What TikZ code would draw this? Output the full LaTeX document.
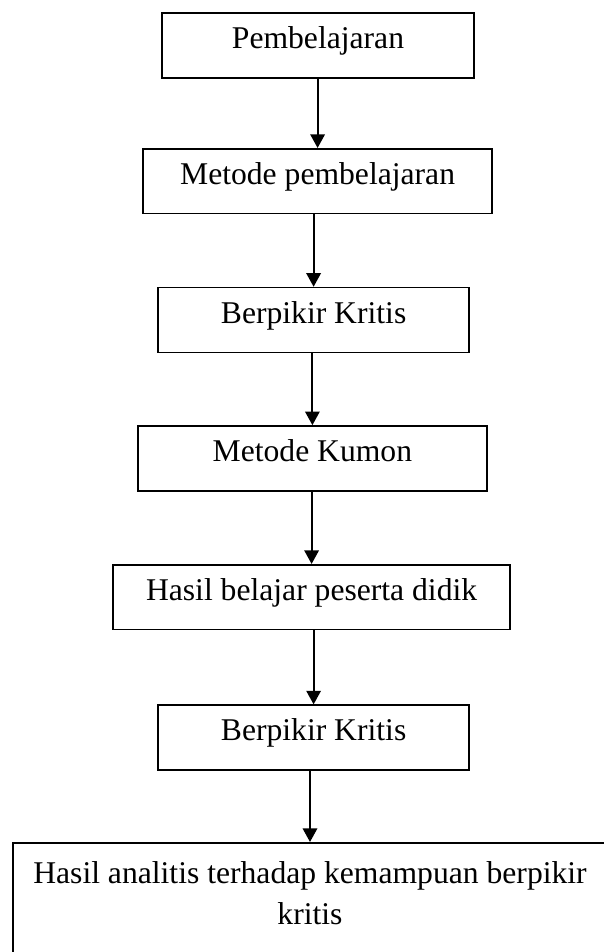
\documentclass[tikz,border=0pt]{standalone}
\usepackage{fontspec}
\setmainfont{Liberation Serif}
\usetikzlibrary{arrows.meta}

\tikzset{
  garis/.style={draw,line width=1.2pt,inner sep=0pt},
  kotak/.style={garis,minimum height=1.62cm,text height=0.68em,text depth=0.22em},
  panah/.style={line width=1.4pt,-{Triangle[width=0.36cm,length=0.34cm]}}
}

\begin{document}
\begin{tikzpicture}[font=\fontsize{22.5}{29.2}\selectfont]

%%%% page
\useasboundingbox (0,0) rectangle (15.1,-23.8);
\clip (0,0) rectangle (15.1,-23.8);

%%%% boxes
\node[kotak,minimum width=7.8cm] (pembelajaran) at (7.95,-1.14) {Pembelajaran};
\node[kotak,minimum width=8.72cm] (metode) at (7.94,-4.53) {Metode pembelajaran};
\node[kotak,minimum width=7.78cm] (kritisa) at (7.84,-8.0) {Berpikir Kritis};
\node[kotak,minimum width=8.72cm] (kumon) at (7.81,-11.46) {Metode Kumon};
\node[kotak,minimum width=9.92cm] (hasil) at (7.79,-14.93) {Hasil belajar peserta didik};
\node[kotak,minimum width=7.78cm] (kritisb) at (7.84,-18.44) {Berpikir Kritis};

%% last box, runs off the page
\node[garis,anchor=north,minimum width=14.85cm,align=center,inner ysep=0.46cm,text depth=3cm]
  (analitis) at (7.75,-21.05) {Hasil analitis terhadap kemampuan berpikir\\ kritis};

%%%% arrows
\draw[panah] (pembelajaran.south -| metode.north) -- (metode.north);
\draw[panah] (metode.south -| kritisa.north) -- (kritisa.north);
\draw[panah] (kritisa.south -| kumon.north) -- (kumon.north);
\draw[panah] (kumon.south -| hasil.north) -- (hasil.north);
\draw[panah] (hasil.south -| kritisb.north) -- (kritisb.north);
\draw[panah] (kritisb.south -| analitis.north) -- (analitis.north);

\end{tikzpicture}
\end{document}
